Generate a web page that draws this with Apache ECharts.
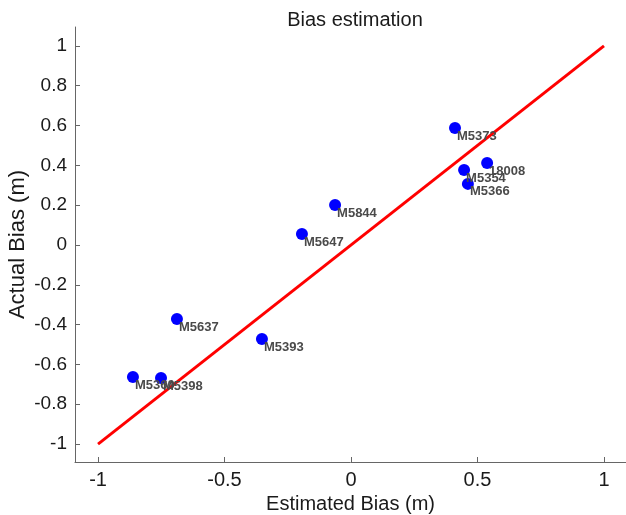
<!DOCTYPE html>
<html>
<head>
<meta charset="utf-8">
<script src="https://cdn.jsdelivr.net/npm/echarts@6/dist/echarts.min.js"></script>
<style>html,body{margin:0;padding:0;background:#fff;}#c{width:626px;height:515px;}</style>
</head>
<body>
<div id="c"></div>
<script>
const names = ['M5373','18008','M5354','M5366','M5844','M5647','M5637','M5393','M5360','M5398'];
const estimated = [0.411, 0.538, 0.447, 0.462, -0.063, -0.194, -0.688, -0.352, -0.862, -0.751];
const actual = [0.588, 0.412, 0.377, 0.307, 0.201, 0.055, -0.372, -0.472, -0.663, -0.668];
const lineX = [-1, 1];
const lineY = [-1, 1];
const xTicks = [-1, -0.5, 0, 0.5, 1];
const yTicks = [-1, -0.8, -0.6, -0.4, -0.2, 0, 0.2, 0.4, 0.6, 0.8, 1];

const FONT = "'Liberation Sans', Arial, sans-serif";
const chart = echarts.init(document.getElementById('c'), null, {renderer: 'canvas'});
const tickStyle = {show: true, inside: true, length: 5, lineStyle: {color: '#666'}};
chart.setOption({
  animation: false,
  backgroundColor: '#fff',
  title: {
    text: 'Bias estimation', left: 350, top: 5, textAlign: 'center',
    textStyle: {fontFamily: FONT, fontSize: 20, fontWeight: 'normal', color: '#1a1a1a'}
  },
  grid: {left: 75, right: 0, top: 27, bottom: 53, containLabel: false, outerBoundsMode: 'none'},
  xAxis: {
    type: 'value', min: -1.091, max: 1.087,
    name: 'Estimated Bias (m)', nameLocation: 'middle', nameGap: 32, nameMoveOverlap: false,
    nameTextStyle: {fontFamily: FONT, fontSize: 20, color: '#1a1a1a'},
    axisLine: {show: true, onZero: false, lineStyle: {color: '#666', width: 1}},
    axisTick: Object.assign({}, tickStyle, {customValues: xTicks}),
    splitLine: {show: false},
    axisLabel: {customValues: xTicks, fontFamily: FONT, fontSize: 20, color: '#1a1a1a', margin: 8,
      formatter: v => String(v)}
  },
  yAxis: {
    type: 'value', min: -1.09, max: 1.095,
    name: 'Actual Bias (m)', nameLocation: 'middle', nameGap: 46, nameMoveOverlap: false,
    nameTextStyle: {fontFamily: FONT, fontSize: 22, color: '#1a1a1a'},
    axisLine: {show: true, onZero: false, lineStyle: {color: '#666', width: 1}},
    axisTick: Object.assign({}, tickStyle, {customValues: yTicks}),
    splitLine: {show: false},
    axisLabel: {customValues: yTicks, fontFamily: FONT, fontSize: 19, color: '#1a1a1a', margin: 8,
      formatter: v => String(Math.round(v * 10) / 10)}
  },
  series: [
    {
      type: 'line',
      data: lineX.map((x, i) => [x, lineY[i]]),
      symbol: 'none',
      lineStyle: {color: '#ff0000', width: 3},
      z: 2
    },
    {
      type: 'scatter',
      data: estimated.map((x, i) => ({value: [x, actual[i]], name: names[i]})),
      symbolSize: 12,
      itemStyle: {color: '#0000ff', opacity: 1},
      z: 3,
      label: {
        show: true,
        formatter: p => p.name,
        position: [8, 14],
        align: 'left',
        verticalAlign: 'middle',
        fontFamily: FONT,
        fontSize: 13,
        fontWeight: 'bold',
        color: '#4a4a4a'
      }
    }
  ]
});
</script>
</body>
</html>
